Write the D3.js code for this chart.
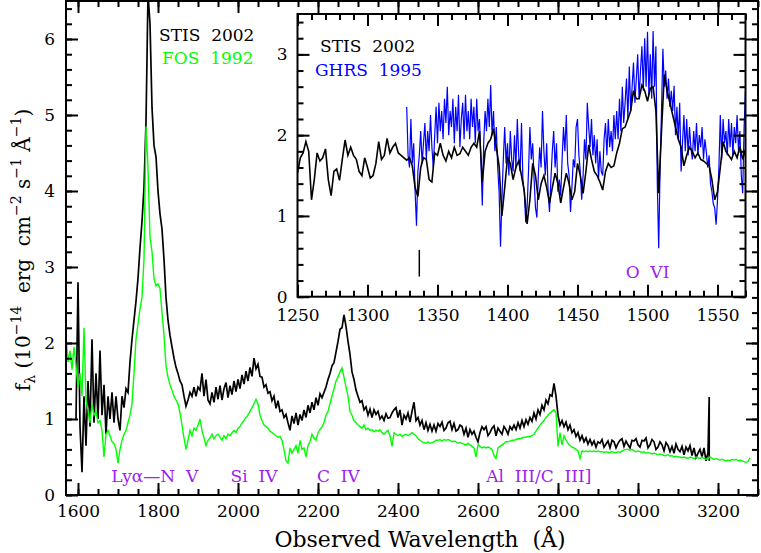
<!DOCTYPE html>
<html><head><meta charset="utf-8">
<script src="https://cdn.jsdelivr.net/npm/d3@7"></script>
<style>
body{margin:0;background:#fff}
text{font-family:"DejaVu Serif",serif;white-space:pre}
</style>
</head><body>
<svg id="c" width="761" height="553"></svg>
<script>
// ---------------- DATA ----------------
// STIS 2002 main spectrum: flux (1e-14 erg/cm2/s/A) on a 5 A grid from 1595 A
const stisStart = 1595, stisStep = 5;
const stisFlux = [
 1.0,2.8,0.9,0.3,1.3,0.65,1.5,0.9,2.05,0.95,1.6,1.0,1.9,1.05,1.45,0.8,1.3,1.0,1.35,0.95,
 1.3,1.0,0.85,1.3,1.15,1.4,1.35,1.75,2.05,2.3,2.55,2.85,3.25,3.6,4.05,4.9,6.6,6.2,5.1,4.6,
 4.45,4.0,3.7,3.5,3.1,2.6,2.3,2.1,1.95,1.8,1.68,1.6,1.5,1.45,1.3,1.17,1.25,1.35,1.3,1.42,
 1.3,1.42,1.38,1.6,1.3,1.52,1.25,1.2,1.35,1.22,1.42,1.26,1.44,1.25,1.4,1.48,1.28,1.44,1.32,1.5,
 1.36,1.52,1.4,1.58,1.46,1.63,1.5,1.68,1.56,1.8,1.66,1.72,1.56,1.55,1.42,1.45,1.34,1.36,1.24,1.3,
 1.14,1.24,1.1,1.12,1.02,1.06,0.95,0.85,1.04,0.94,1.08,0.92,1.06,0.98,1.12,1.02,1.18,1.08,1.22,1.12,
 1.28,1.18,1.33,1.28,1.35,1.42,1.52,1.6,1.7,1.74,1.88,2.02,2.18,2.2,2.37,2.22,2.02,1.85,1.62,1.52,
 1.38,1.3,1.22,1.24,1.12,1.16,1.05,1.13,1.02,1.12,1.06,1.1,1.0,1.04,0.98,1.07,1.01,1.02,1.08,1.12,
 1.15,1.02,1.12,0.92,1.05,1.0,1.08,0.96,1.1,1.22,0.98,1.02,0.92,0.98,0.86,0.95,0.85,0.93,0.84,0.92,
 0.84,0.94,0.9,0.96,0.85,0.88,0.95,0.97,0.86,0.94,0.84,0.86,0.92,0.9,0.8,0.88,0.76,0.86,0.8,0.84,
 0.76,0.7,0.82,0.9,0.86,0.9,0.78,0.82,0.88,0.91,0.78,0.88,0.84,0.8,0.9,0.86,0.8,0.9,0.86,0.92,
 0.86,0.95,0.88,0.98,0.9,0.99,0.93,1.02,0.97,1.08,1.0,1.12,1.06,1.18,1.12,1.25,1.2,1.32,1.3,1.47,
 1.3,1.05,0.92,0.98,0.9,0.96,0.86,0.92,0.82,0.86,0.77,0.82,0.72,0.78,0.7,0.75,0.67,0.73,0.66,0.71,
 0.63,0.7,0.68,0.73,0.63,0.67,0.71,0.62,0.72,0.7,0.62,0.68,0.72,0.74,0.64,0.71,0.66,0.62,0.72,0.71,
 0.74,0.66,0.63,0.72,0.71,0.75,0.62,0.66,0.73,0.7,0.6,0.63,0.7,0.66,0.58,0.69,0.65,0.57,0.64,0.55,
 0.67,0.6,0.57,0.64,0.53,0.63,0.58,0.65,0.52,0.62,0.49,0.55,0.6,0.5,0.62,0.45,0.56
];
// sharp spike at the red end of the STIS spectrum
const stisEndWave = [3178, 3178];
const stisEndFlux = [1.29, 0.45];

// FOS 1992: 5 A grid from 1570 A
const fosStart = 1570, fosStep = 5;
const fosFlux = [
 2.1,1.75,1.9,1.65,1.95,1.7,1.42,1.6,1.3,2.2,1.25,1.12,0.95,1.2,1.05,1.1,0.95,0.98,0.85,0.5,
 0.8,0.85,0.78,0.7,0.68,0.6,0.42,0.6,0.72,0.8,0.85,0.95,1.05,1.2,1.6,2.05,2.25,2.45,2.6,3.1,
 4.85,4.3,3.4,3.2,2.85,2.75,2.78,2.72,2.4,2.1,1.7,1.55,1.45,1.38,1.3,1.25,1.2,1.08,0.92,0.75,
 0.6,0.72,0.85,0.78,0.88,0.85,0.92,1.0,0.85,0.75,0.65,0.72,0.75,0.8,0.74,0.78,0.8,0.76,0.72,0.78,
 0.74,0.8,0.78,0.82,0.85,0.82,0.88,0.9,0.95,0.98,1.02,1.05,1.1,1.15,1.2,1.26,1.2,1.05,0.98,0.92,
 0.9,0.88,0.84,0.82,0.8,0.78,0.76,0.77,0.72,0.6,0.45,0.42,0.62,0.55,0.6,0.65,0.55,0.72,0.6,0.62,
 0.5,0.65,0.7,0.8,0.75,0.72,0.82,0.86,0.9,0.95,1.05,1.1,1.2,1.3,1.4,1.5,1.55,1.62,1.67,1.55,
 1.42,1.3,1.1,1.05,0.98,0.95,0.92,0.9,0.88,0.92,0.86,0.88,0.85,0.86,0.83,0.85,0.84,0.86,0.82,0.8,
 0.83,0.85,0.78,0.64,0.82,0.8,0.78,0.8,0.77,0.79,0.8,0.78,0.8,0.82,0.8,0.78,0.74,0.72,0.7,0.69,
 0.68,0.7,0.68,0.69,0.7,0.72,0.72,0.73,0.71,0.73,0.72,0.73,0.72,0.7,0.71,0.7,0.68,0.69,0.68,0.67,
 0.66,0.68,0.66,0.64,0.62,0.5,0.66,0.64,0.62,0.63,0.62,0.63,0.62,0.6,0.52,0.48,0.62,0.64,0.66,0.68,
 0.7,0.7,0.71,0.72,0.72,0.73,0.74,0.74,0.75,0.76,0.76,0.77,0.77,0.78,0.8,0.84,0.88,0.92,0.95,0.98,
 1.02,1.05,1.08,1.1,1.12,1.08,0.64,0.82,0.66,0.78,0.72,0.68,0.65,0.63,0.62,0.6,0.58,0.48,0.58,0.57,
 0.58,0.57,0.58,0.57,0.58,0.57,0.58,0.57,0.57,0.56,0.57,0.56,0.56,0.57,0.56,0.56,0.57,0.56,0.58,0.59,
 0.6,0.6,0.59,0.6,0.58,0.57,0.58,0.57,0.56,0.57,0.55,0.56,0.55,0.54,0.55,0.54,0.53,0.54,0.53,0.52,
 0.52,0.53,0.51,0.52,0.5,0.51,0.5,0.5,0.49,0.5,0.49,0.48,0.5,0.49,0.48,0.5,0.49,0.48,0.5,0.48,
 0.47,0.48,0.5,0.48,0.47,0.48,0.47,0.46,0.47,0.46,0.45,0.46,0.45,0.47,0.46,0.47,0.45,0.46,0.45,0.44,
 0.43,0.44,0.49
];

// Inset: STIS 2002, 2 A grid from 1250 A
const insStisStart = 1250, insStisStep = 2;
const insStisFlux = [
 1.53,1.72,1.78,1.92,1.8,1.2,1.45,1.78,1.68,1.72,
 1.83,1.45,1.25,1.55,1.58,1.44,1.7,1.94,1.75,1.85,
 1.75,1.7,1.55,1.5,1.72,1.6,1.47,1.5,1.65,1.92,
 1.7,1.75,1.96,1.78,1.85,1.9,1.78,1.75,1.72,1.69,
 1.72,1.62,1.35,1.24,1.6,1.72,1.7,1.45,1.42,1.78,
 1.75,1.9,1.75,1.68,1.8,1.72,1.85,1.75,1.77,1.85,
 1.8,1.75,1.85,1.9,1.85,2.05,1.42,1.8,1.9,1.95,
 2.08,1.85,1.62,1.0,1.35,1.72,1.65,1.45,1.6,1.68,
 1.5,1.3,0.9,1.2,1.65,1.5,1.2,1.4,1.5,1.35,
 1.16,1.35,1.53,1.4,1.16,1.35,1.53,1.4,1.2,1.3,
 1.65,1.5,1.28,1.55,1.88,1.7,1.55,1.5,1.42,1.32,
 1.55,1.65,1.6,1.62,1.78,1.9,2.08,2.1,2.2,2.3,
 2.55,2.45,2.45,2.62,2.55,2.42,2.58,2.6,2.3,1.28,
 2.05,2.75,2.55,2.4,2.25,2.1,1.95,1.85,1.62,1.75,
 1.85,1.8,1.72,1.78,1.7,1.68,1.65,1.62,1.45,1.2,
 1.3,1.6,1.92,1.8,1.75,1.7,1.8,1.72,1.86,1.7,
 1.82
];

// Inset: GHRS 1995, 1 A grid from 1328 A
const ghrsStart = 1328, ghrsStep = 1;
const ghrsFlux = [
 2.35,1.75,1.6,2.2,1.65,1.9,1.3,0.88,1.55,1.75,
 2.05,1.65,1.9,2.15,1.7,2.05,1.8,2.25,1.85,1.6,
 2.0,2.35,1.9,2.4,2.05,2.3,1.95,2.45,2.15,2.6,
 2.0,2.3,2.1,2.45,1.9,2.35,2.05,2.5,1.85,2.2,
 2.4,1.95,2.5,2.05,2.3,1.95,2.45,2.1,2.35,1.9,
 2.45,2.05,2.2,1.7,1.13,1.9,2.3,2.05,2.45,2.1,
 2.62,2.0,2.3,1.8,2.1,1.6,1.3,0.62,1.2,1.7,
 2.1,1.65,1.9,1.5,2.05,1.7,1.55,2.0,1.6,2.2,
 1.75,1.55,2.15,1.45,1.3,0.92,1.1,1.55,2.1,1.7,
 1.9,1.45,1.1,0.98,1.5,1.85,1.6,2.3,1.8,1.5,
 1.9,1.3,1.05,1.45,1.8,2.05,1.6,1.9,1.3,1.45,
 1.25,1.7,2.1,1.8,2.25,1.65,1.5,1.05,1.35,1.7,
 1.6,2.1,2.2,1.75,1.55,1.2,1.5,1.95,1.7,2.4,
 2.1,1.85,2.2,1.75,2.0,1.65,1.95,1.45,1.8,1.55,
 1.5,1.95,2.15,1.75,2.2,1.85,2.05,1.8,2.25,1.95,
 2.3,1.95,2.45,2.05,2.6,2.15,2.4,2.7,2.2,2.85,
 2.3,2.6,2.9,2.4,2.7,3.0,2.45,2.8,3.1,2.55,
 3.2,2.6,3.28,2.5,3.0,2.45,3.29,2.6,3.1,1.4,
 0.6,1.6,2.3,3.07,2.6,2.8,2.45,2.7,2.35,2.55,
 2.3,2.61,2.0,2.35,1.95,2.4,1.55,1.9,2.25,1.8,
 2.2,1.75,2.1,1.85,1.7,2.05,1.8,2.15,1.75,2.0,
 1.85,2.1,1.7,1.95,1.8,1.6,1.75,1.4,1.3,1.15,
 1.1,0.89,1.2,1.6,2.25,1.7,2.2,1.9,2.05,1.75,
 2.2,1.85,2.15,1.75,2.1,1.9,2.25,1.8,2.05,1.5,
 1.28,2.1,2.55
];

// marker in inset
const markWave = [1337], markLow = [0.25], markHigh = [0.58];

// tick labels
const mainXTicks = [1600,1800,2000,2200,2400,2600,2800,3000,3200];
const mainYTicks = [0,1,2,3,4,5,6];
const insXTicks = [1250,1300,1350,1400,1450,1500,1550];
const insYTicks = [0,1,2,3];

// line identifications
const lineNames = ["Lyα—N  V","Si  IV","C  IV","Al  III/C  III]"];
const lineWaves = [1792,2040,2251,2752];
const lineFlux  = [0.17,0.17,0.17,0.17];
const insLineNames = ["O  VI"], insLineWaves = [1500], insLineFlux = [0.23];

// ---------------- DRAW ----------------
const svg = d3.select("#c");
svg.append("rect").attr("width",761).attr("height",553).attr("fill","#fff");

function series(start, step, vals){ return vals.map((v,i)=>[start+i*step, v]); }

const x = d3.scaleLinear().domain([1570,3300]).range([66,758]);
const y = d3.scaleLinear().domain([0,6.5]).range([495,1]);

const xi = d3.scaleLinear().domain([1250,1570]).range([297.5,745.5]);
const yi = d3.scaleLinear().domain([0,3.5]).range([296.7,14]);

function styleAxis(g, fs){
  g.select(".domain").remove();
  g.selectAll("line").attr("stroke","#000").attr("stroke-width",2);
  g.selectAll("text").attr("fill","#000").style("font-family","'DejaVu Serif',serif").style("font-size",fs+"px");
  g.attr("font-family",null).attr("font-size",null);
}

function frame(g, xs, ys, xMaj, xMin, yMaj, yMin, padX, padY){
  const [x0,x1] = xs.range(), [yb,yt] = ys.range();
  const add = (axis, tr) => g.append("g").attr("transform",tr).call(axis).call(s=>styleAxis(s,17));
  add(d3.axisBottom(xs).tickValues(xMin).tickSize(-6).tickFormat(""), `translate(0,${yb})`);
  add(d3.axisBottom(xs).tickValues(xMaj).tickSize(-12).tickPadding(padX).tickFormat(d3.format("d")), `translate(0,${yb})`);
  add(d3.axisTop(xs).tickValues(xMin).tickSize(-6).tickFormat(""), `translate(0,${yt})`);
  add(d3.axisTop(xs).tickValues(xMaj).tickSize(-12).tickFormat(""), `translate(0,${yt})`);
  add(d3.axisLeft(ys).tickValues(yMin).tickSize(-6).tickFormat(""), `translate(${x0},0)`);
  add(d3.axisLeft(ys).tickValues(yMaj).tickSize(-12).tickPadding(padY).tickFormat(d3.format("d")), `translate(${x0},0)`);
  add(d3.axisRight(ys).tickValues(yMin).tickSize(-6).tickFormat(""), `translate(${x1},0)`);
  add(d3.axisRight(ys).tickValues(yMaj).tickSize(-12).tickFormat(""), `translate(${x1},0)`);
  g.append("rect").attr("x",x0).attr("y",yt).attr("width",x1-x0).attr("height",yb-yt)
    .attr("fill","none").attr("stroke","#000").attr("stroke-width",2);
}

// ----- main panel -----
const main = svg.append("g");
svg.append("clipPath").attr("id","clipMain").append("rect")
  .attr("x",66).attr("y",1).attr("width",692).attr("height",494);

const lineMain = d3.line().x(d=>x(d[0])).y(d=>y(d[1]));
const stisData = series(stisStart, stisStep, stisFlux).concat(stisEndWave.map((w,i)=>[w, stisEndFlux[i]]));
main.append("path").attr("clip-path","url(#clipMain)").attr("d",lineMain(stisData))
  .attr("fill","none").attr("stroke","#000").attr("stroke-width",1.7);
main.append("path").attr("clip-path","url(#clipMain)").attr("d",lineMain(series(fosStart,fosStep,fosFlux)))
  .attr("fill","none").attr("stroke","#00ff00").attr("stroke-width",1.4);

frame(main, x, y, mainXTicks, d3.range(1600,3301,50), mainYTicks, d3.range(0,6.5,0.2), 10, 11);

main.selectAll("text.lid").data(lineNames).join("text").attr("class","lid")
  .attr("x",(d,i)=>x(lineWaves[i])).attr("y",(d,i)=>y(lineFlux[i]))
  .attr("text-anchor","middle").attr("fill","#a020f0").style("font-size","17px").text(d=>d);

main.append("text").attr("x",159).attr("y",41).attr("fill","#000").style("font-size","17px").text("STIS  2002");
main.append("text").attr("x",162).attr("y",63.5).attr("fill","#00ff00").style("font-size","17px").text("FOS  1992");

main.append("text").attr("x",420).attr("y",547).attr("text-anchor","middle").style("font-size","22px")
  .text("Observed Wavelength  (Å)");

const yl = svg.append("text").attr("transform","translate(30,250) rotate(-90)")
  .attr("text-anchor","middle").style("font-size","20px");
yl.append("tspan").text("f");
yl.append("tspan").attr("dy",5).style("font-size","14px").text("λ");
yl.append("tspan").attr("dy",-5).text(" (10");
yl.append("tspan").attr("dy",-9).style("font-size","14px").text("−14");
yl.append("tspan").attr("dy",9).text("  erg  cm");
yl.append("tspan").attr("dy",-9).style("font-size","14px").text("−2");
yl.append("tspan").attr("dy",9).text(" s");
yl.append("tspan").attr("dy",-9).style("font-size","14px").text("−1");
yl.append("tspan").attr("dy",9).text(" Å");
yl.append("tspan").attr("dy",-9).style("font-size","14px").text("−1");
yl.append("tspan").attr("dy",9).text(")");

// ----- inset panel -----
const ins = svg.append("g");
ins.append("rect").attr("x",297.5).attr("y",14).attr("width",448).attr("height",282.7).attr("fill","#fff");
svg.append("clipPath").attr("id","clipIns").append("rect")
  .attr("x",297.5).attr("y",14).attr("width",448).attr("height",282.7);
const lineIns = d3.line().x(d=>xi(d[0])).y(d=>yi(d[1]));
ins.append("path").attr("clip-path","url(#clipIns)").attr("d",lineIns(series(ghrsStart,ghrsStep,ghrsFlux)))
  .attr("fill","none").attr("stroke","#0000ff").attr("stroke-width",1.2);
ins.append("path").attr("clip-path","url(#clipIns)").attr("d",lineIns(series(insStisStart,insStisStep,insStisFlux)))
  .attr("fill","none").attr("stroke","#000").attr("stroke-width",1.6);
ins.selectAll("line.mk").data(markWave).join("line").attr("class","mk")
  .attr("x1",d=>xi(d)).attr("x2",d=>xi(d)).attr("y1",(d,i)=>yi(markLow[i])).attr("y2",(d,i)=>yi(markHigh[i]))
  .attr("stroke","#000").attr("stroke-width",1.5);

frame(ins, xi, yi, insXTicks, d3.range(1250,1571,10), insYTicks, d3.range(0,3.5,0.2), 12, 10);

ins.selectAll("text.ilid").data(insLineNames).join("text").attr("class","ilid")
  .attr("x",(d,i)=>xi(insLineWaves[i])).attr("y",(d,i)=>yi(insLineFlux[i]))
  .attr("text-anchor","middle").attr("fill","#a020f0").style("font-size","17px").text(d=>d);
ins.append("text").attr("x",320).attr("y",52).attr("fill","#000").style("font-size","17px").text("STIS  2002");
ins.append("text").attr("x",315).attr("y",76).attr("fill","#0000ff").style("font-size","17px").text("GHRS  1995");
</script>
</body></html>
